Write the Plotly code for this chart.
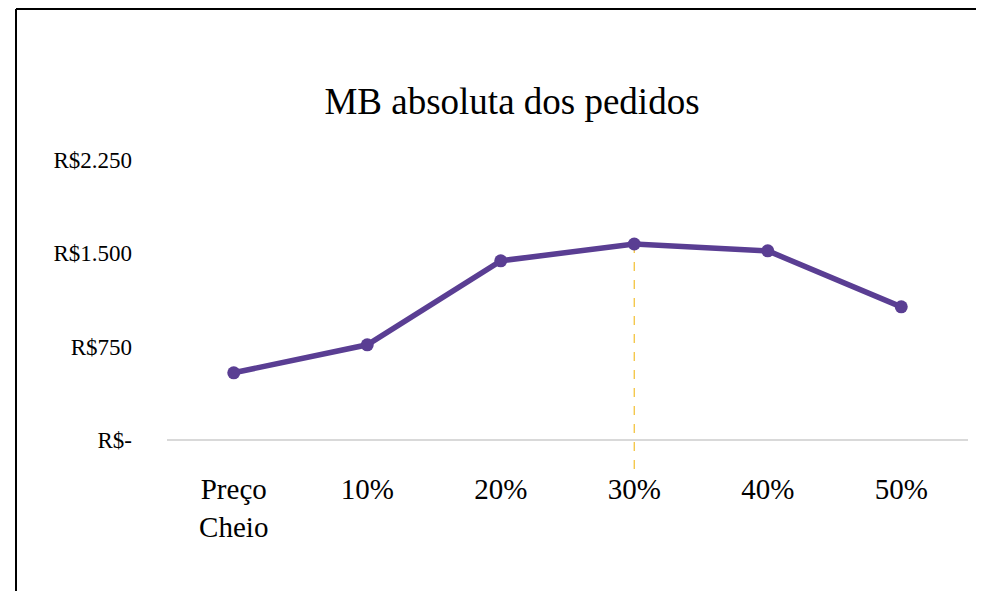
import plotly.graph_objects as go

categories = ["Preço Cheio", "10%", "20%", "30%", "40%", "50%"]
category_labels = ["Preço<br>Cheio", "10%", "20%", "30%", "40%", "50%"]
values = [540, 765, 1440, 1575, 1520, 1070]
y_ticks = [0, 750, 1500, 2250]
y_tick_labels = ["R$-", "R$750", "R$1.500", "R$2.250"]
highlight_index = 3

# page body has an 8px margin, so the figure is drawn 8px in from the window edge
W, H = 976, 583
ML, MR, MT, MB = 159, 16, 152, 151
plot_w = W - ML - MR
plot_h = H - MT - MB
y_max = 2250

font_family = "Liberation Serif, DejaVu Serif, serif"
purple = "#5a3e93"

fig = go.Figure()
fig.add_trace(go.Scatter(
    x=categories, y=values, mode="lines+markers",
    line=dict(color=purple, width=5.5),
    marker=dict(color=purple, size=13),
    hoverinfo="x+y", showlegend=False,
))

# dashed highlight line from the 30% point down below the axis
fig.add_shape(type="line", xref="x", yref="paper",
              x0=categories[highlight_index], x1=categories[highlight_index],
              y0=values[highlight_index] / y_max, y1=-36 / plot_h,
              line=dict(color="#f2bf2e", width=1.2, dash="dash"), layer="below")

# chart border (only left and top edges visible)
bx = (8 - ML) / plot_w
by = (H - MB - 1) / plot_h
fig.add_shape(type="line", xref="paper", yref="paper",
              x0=bx, x1=bx, y0=-MB / plot_h, y1=by,
              line=dict(color="#000000", width=2))
fig.add_shape(type="line", xref="paper", yref="paper",
              x0=bx, x1=(W - ML) / plot_w, y0=by, y1=by,
              line=dict(color="#000000", width=2))

fig.update_layout(
    width=W, height=H,
    margin=dict(l=ML, r=MR, t=MT, b=MB),
    paper_bgcolor="white", plot_bgcolor="white",
    font=dict(family=font_family, color="#000000"),
    title=dict(text="MB absoluta dos pedidos", x=504 / W, xanchor="center",
               y=1 - 93 / H, yanchor="middle",
               font=dict(size=37, family=font_family, color="#000000")),
    xaxis=dict(showgrid=False, showline=False, zeroline=False,
               range=[-0.5, len(categories) - 0.5],
               tickvals=categories, ticktext=category_labels,
               tickfont=dict(size=29, family=font_family),
               ticks="", ticklabelstandoff=29),
    yaxis=dict(range=[0, y_max], tickvals=y_ticks, ticktext=y_tick_labels,
               showgrid=False, zeroline=True, zerolinecolor="#d9d9d9",
               zerolinewidth=2, showline=False,
               tickfont=dict(size=23, family=font_family),
               ticks="", ticklabelstandoff=34),
)

fig.write_html("out.html", config={"displayModeBar": False})
